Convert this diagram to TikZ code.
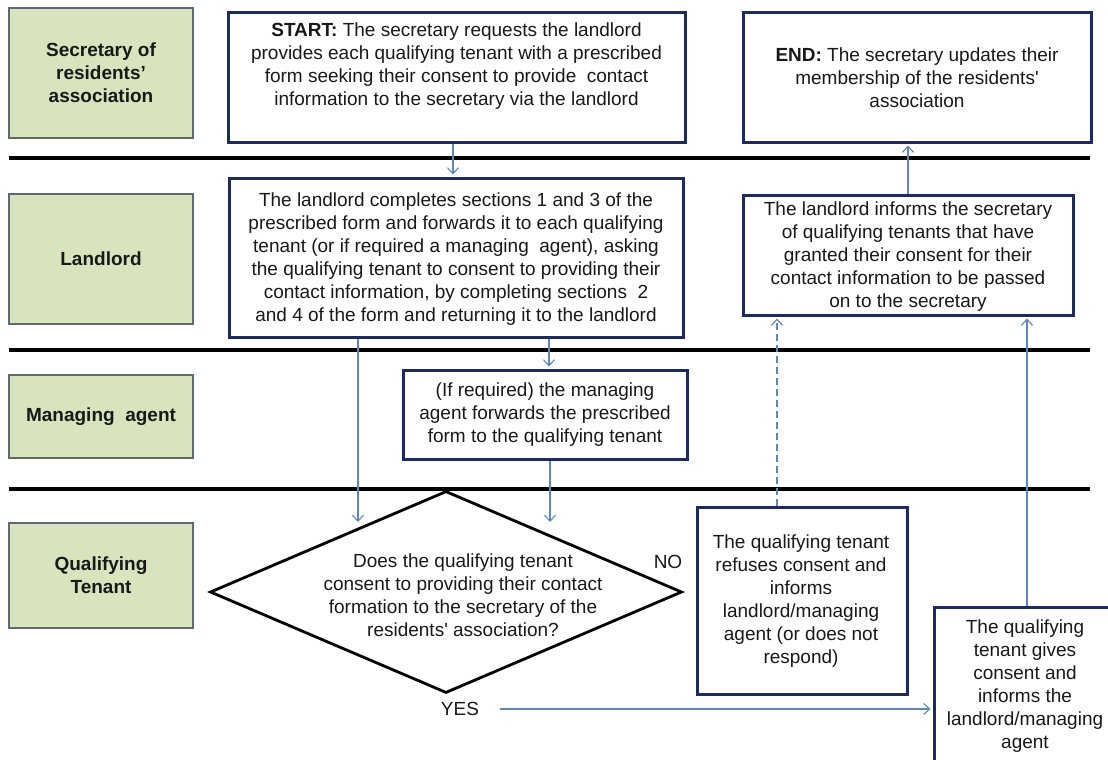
\documentclass[tikz,border=0pt]{standalone}
\usepackage{fontspec}
\setmainfont{Liberation Sans}
\usetikzlibrary{arrows.meta,shapes.geometric}
\definecolor{navy}{RGB}{28,42,92}
\definecolor{arrowblue}{RGB}{96,134,186}
\definecolor{lanegreen}{RGB}{215,228,189}
\definecolor{laneborder}{RGB}{95,105,115}
\definecolor{textc}{RGB}{25,25,25}
\tikzset{
  box/.style={draw=navy, line width=3pt, fill=white, inner sep=0pt},
  lanebox/.style={draw=laneborder, line width=1.2pt, fill=lanegreen, inner sep=0pt, align=center,
    font=\fontsize{19}{23}\selectfont\bfseries, text=textc},
  txt/.style={align=center, font=\fontsize{19}{23}\selectfont, text=textc, inner sep=0pt},
  laneline/.style={line width=3.5pt, black},
  arr/.style={-{Straight Barb[length=6pt,width=11pt]}, line width=1.1pt, draw=arrowblue, shorten >=2pt},
  decision/.style={diamond, draw=black, line width=2.8pt, fill=white, inner sep=0pt}
}
\begin{document}
\begin{tikzpicture}[x=1pt,y=-1pt]
\useasboundingbox (0,0) rectangle (1108,760);
\clip (0,0) rectangle (1108,760);
\fill[white] (0,0) rectangle (1108,760);

% lane separators
\draw[laneline] (9,158) -- (1090,158);
\draw[laneline] (9,350) -- (1090,350);
\draw[laneline] (9,489) -- (1090,489);

% lane labels
\node[lanebox, minimum width=184pt, minimum height=130pt] (lsec) at (101,73) {Secretary of\\residents’\\association};
\node[lanebox, minimum width=184pt, minimum height=130pt] (lland) at (101,259) {Landlord};
\node[lanebox, minimum width=184pt, minimum height=83pt] (lman) at (101,416.5) {Managing\ \ agent};
\node[lanebox, minimum width=184pt, minimum height=105pt] (lqt) at (101,575.5) {Qualifying\\Tenant};

% coordinates for connector ends
\coordinate (c0) at (453,0);
\coordinate (c1) at (549,0);
\coordinate (d1) at (358,522);
\coordinate (d2) at (550,522);
\coordinate (y1) at (500,709);
\coordinate (c2) at (777,0);
\coordinate (c3) at (1027,0);

% boxes
\node[box, minimum width=457pt, minimum height=129pt] (start) at (456.5,77.5) {};
\node[txt] (starttxt) at (456.5,66) {\textbf{START:} The secretary requests the landlord\\provides each qualifying tenant with a prescribed\\form seeking their consent to provide\ \ contact\\information to the secretary via the landlord};

\node[box, minimum width=348pt, minimum height=129pt] (endbox) at (917,77.5) {};
\node[txt] (endtxt) at (917,78) {\textbf{END:} The secretary updates their\\membership of the residents\textquotesingle\\association};

\node[box, minimum width=454pt, minimum height=159pt] (lbox) at (456,257.5) {};
\node[txt] (ltxt) at (456,259) {The landlord completes sections 1 and 3 of the\\prescribed form and forwards it to each qualifying\\tenant (or if required a managing\ \ agent), asking\\the qualifying tenant to consent to providing their\\contact information, by completing sections\ \ 2\\and 4 of the form and returning it to the landlord};

\node[box, minimum width=330pt, minimum height=120pt] (informs) at (908,255) {};
\node[txt] (informstxt) at (908,257) {The landlord informs the secretary\\of qualifying tenants that have\\granted their consent for their\\contact information to be passed\\on to the secretary};

\node[box, minimum width=284pt, minimum height=89pt] (mbox) at (545,414.5) {};
\node[txt] (mtxt) at (545,415) {(If required) the managing\\agent forwards the prescribed\\form to the qualifying tenant};

\node[decision, minimum width=472pt, minimum height=202pt] (dia) at (446,592) {};
\node[txt] (diatxt) at (463,595) {Does the qualifying tenant\\consent to providing their contact\\formation to the secretary of the\\residents\textquotesingle\ association?};

\node[box, minimum width=210pt, minimum height=187pt] (refuses) at (802,600.5) {};
\node[txt] (refusestxt) at (801,601) {The qualifying tenant\\refuses consent and\\informs\\landlord/managing\\agent (or does not\\respond)};

\node[box, minimum width=182pt, minimum height=158pt] (gives) at (1025,686) {};
\node[txt] (givestxt) at (1025,686) {The qualifying\\tenant gives\\consent and\\informs the\\landlord/managing\\agent};

\node[txt] (no) at (668,562) {NO};
\node[txt] (yes) at (460,709) {YES};

% connectors
\draw[arr] (start.south -| c0) -- (lbox.north -| c0);
\draw[arr] (lbox.south -| c1) -- (mbox.north -| c1);
\draw[arr, shorten >=0pt] (lbox.south -| d1) -- (d1);
\draw[arr, shorten >=0pt] (mbox.south -| d2) -- (d2);
\draw[arr, dash pattern=on 7pt off 4pt] (refuses.north -| c2) -- (informs.south -| c2);
\draw[arr] (gives.north -| c3) -- (informs.south -| c3);
\draw[arr] (informs.north) -- (endbox.south -| informs.north);
\draw[arr] (y1) -- (gives.west |- y1);
\end{tikzpicture}
\end{document}
